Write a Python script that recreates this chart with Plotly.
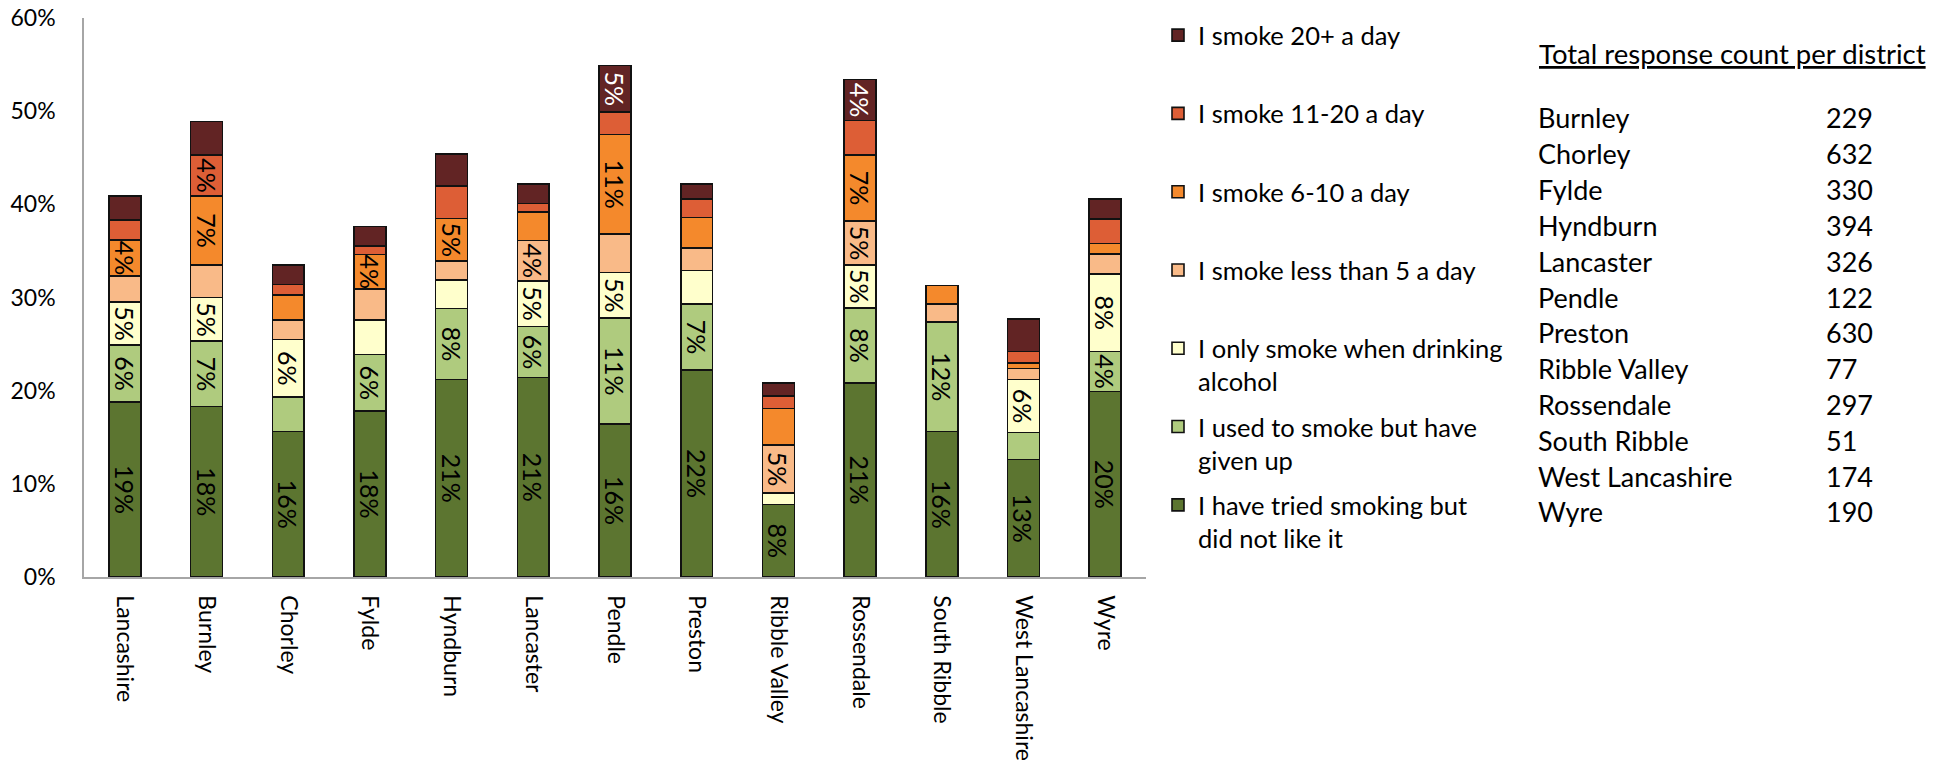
import plotly.graph_objects as go

districts = ["Lancashire", "Burnley", "Chorley", "Fylde", "Hyndburn", "Lancaster", "Pendle",
             "Preston", "Ribble Valley", "Rossendale", "South Ribble", "West Lancashire", "Wyre"]

# values in percent (bottom to top of stack)
tried_not_like = [18.8, 18.3, 15.6, 17.8, 21.2, 21.4, 16.4, 22.2, 7.8, 20.8, 15.6, 12.6, 19.9]
used_to_smoke = [6.1, 7.0, 3.7, 6.1, 7.6, 5.5, 11.4, 7.1, 0.0, 8.1, 11.8, 2.9, 4.3]
only_drinking = [4.6, 4.7, 6.2, 3.7, 3.1, 4.9, 4.9, 3.6, 1.2, 4.6, 0.0, 5.7, 8.3]
less_than_5 = [2.8, 3.5, 2.1, 3.3, 2.0, 4.3, 4.1, 2.4, 5.2, 4.7, 1.9, 1.2, 2.2]
smoke_6_10 = [3.9, 7.4, 2.7, 3.7, 4.6, 3.1, 10.7, 3.3, 3.9, 7.1, 2.0, 0.6, 1.1]
smoke_11_20 = [2.1, 4.4, 1.1, 0.9, 3.5, 0.9, 2.4, 2.0, 1.3, 3.7, 0.0, 1.2, 2.6]
smoke_20_plus = [2.6, 3.6, 2.1, 2.1, 3.4, 2.1, 5.0, 1.6, 1.4, 4.4, 0.0, 3.5, 2.2]

# which segments carry a data label (1 = labelled)
show_tried = [1, 1, 1, 1, 1, 1, 1, 1, 1, 1, 1, 1, 1]
show_used = [1, 1, 0, 1, 1, 1, 1, 1, 0, 1, 1, 0, 1]
show_drinking = [1, 1, 1, 0, 0, 1, 1, 0, 0, 1, 0, 1, 1]
show_less5 = [0, 0, 0, 0, 0, 1, 0, 0, 1, 1, 0, 0, 0]
show_6_10 = [1, 1, 0, 1, 1, 0, 1, 0, 0, 1, 0, 0, 0]
show_11_20 = [0, 1, 0, 0, 0, 0, 0, 0, 0, 0, 0, 0, 0]
show_20_plus = [0, 0, 0, 0, 0, 0, 1, 0, 0, 1, 0, 0, 0]

series_names = ["I have tried smoking but<br>did not like it",
                "I used to smoke but have<br>given up",
                "I only smoke when drinking<br>alcohol",
                "I smoke less than 5 a day<br> ",
                "I smoke 6-10 a day<br> ",
                "I smoke 11-20 a day<br> ",
                "I smoke 20+ a day<br> "]

table_districts = ["Burnley", "Chorley", "Fylde", "Hyndburn", "Lancaster", "Pendle", "Preston",
                   "Ribble Valley", "Rossendale", "South Ribble", "West Lancashire", "Wyre"]
table_counts = [229, 632, 330, 394, 326, 122, 630, 77, 297, 51, 174, 190]
table_title = "Total response count per district"

series_values = [tried_not_like, used_to_smoke, only_drinking, less_than_5,
                 smoke_6_10, smoke_11_20, smoke_20_plus]
series_show = [show_tried, show_used, show_drinking, show_less5,
               show_6_10, show_11_20, show_20_plus]
colors = ["#5C7530", "#AFCB7E", "#FFFFCC", "#F9BA88", "#F4892C", "#DD5E36", "#622424"]
text_colors = ["black", "black", "black", "black", "black", "black", "white"]

FONT = "Lato, 'Open Sans', sans-serif"
OFF = 8                      # default page body margin
W, H = 1951 - OFF, 771 - OFF
PX0, PX1, PY0, PY1 = 84, 1146, 18, 577   # plot area in page pixels


def paper_x(px):
    return (px - PX0) / (PX1 - PX0)


def paper_y(py):
    return (PY1 - py) / (PY1 - PY0)


fig = go.Figure()
n = len(series_names)
for i, (name, vals, show, col, tcol) in enumerate(zip(series_names, series_values, series_show,
                                                      colors, text_colors)):
    txt = [f"{v:.0f}%" if s else "" for v, s in zip(vals, show)]
    fig.add_trace(go.Bar(
        x=districts, y=vals, name=name, legendgroup=f"g{i}", legendrank=(n - i) * 10,
        marker=dict(color=col, line=dict(color="#111111", width=1.6)),
        text=txt, textposition="inside", insidetextanchor="middle",
        textangle=90, constraintext="none",
        textfont=dict(family=FONT, size=25, color=tcol),
        hoverinfo="skip",
    ))

fig.update_layout(
    width=W, height=H,
    barmode="stack", bargap=0.61,
    paper_bgcolor="white", plot_bgcolor="white",
    margin=dict(l=PX0 - OFF, r=W - (PX1 - OFF), t=PY0 - OFF, b=H - (PY1 - OFF), autoexpand=False),
    font=dict(family=FONT, size=23, color="black"),
    showlegend=True,
    legend=dict(
        traceorder="grouped", tracegroupgap=9,
        xref="container", yref="container",
        x=(1158 - OFF) / W, y=1 - (12 - OFF) / H, xanchor="left", yanchor="top",
        valign="top", maxheight=750,
        font=dict(family=FONT, size=25.5, color="black"),
        bgcolor="rgba(0,0,0,0)",
    ),
    xaxis=dict(
        showline=True, linecolor="#A6A6A6", linewidth=1.5,
        tickangle=90, ticks="outside", ticklen=12, tickcolor="rgba(0,0,0,0)",
        tickfont=dict(family=FONT, size=23),
        showgrid=False, zeroline=False,
    ),
    yaxis=dict(
        range=[0, 60], dtick=10, ticksuffix="%",
        showline=True, linecolor="#A6A6A6", linewidth=1.5,
        ticks="outside", ticklen=22, tickcolor="rgba(0,0,0,0)",
        tickfont=dict(family=FONT, size=23), ticklabeloverflow="allow",
        showgrid=False, zeroline=False,
    ),
)

# table of response counts
fig.add_annotation(text=f"<u>{table_title}</u>", xref="paper", yref="paper",
                   x=paper_x(1537), y=paper_y(54),
                   xanchor="left", yanchor="middle", showarrow=False,
                   font=dict(family=FONT, size=27.5))
row_y = 118
for name, cnt in zip(table_districts, table_counts):
    yy = paper_y(row_y)
    fig.add_annotation(text=name, xref="paper", yref="paper",
                       x=paper_x(1536), y=yy, xanchor="left", yanchor="middle",
                       showarrow=False, font=dict(family=FONT, size=27))
    fig.add_annotation(text=str(cnt), xref="paper", yref="paper",
                       x=paper_x(1824), y=yy, xanchor="left", yanchor="middle",
                       showarrow=False, font=dict(family=FONT, size=27))
    row_y += 35.8

fig.write_html("out.html")
